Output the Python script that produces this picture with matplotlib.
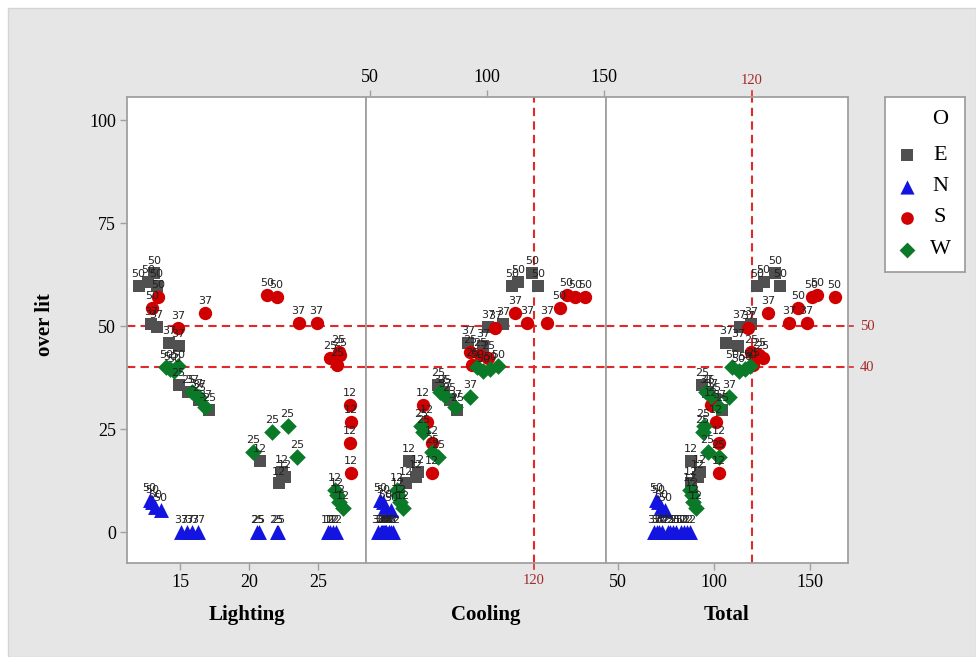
import matplotlib
matplotlib.use('Agg')
import matplotlib.pyplot as plt
from matplotlib.patches import Rectangle

plt.rcParams['font.family'] = 'serif'
plt.rcParams['font.serif'] = ['Liberation Serif', 'DejaVu Serif']

# one row per orientation / window-to-wall ratio group, four variants each
orient = ['E'] * 16 + ['N'] * 16 + ['S'] * 16 + ['W'] * 16
wwr = [12, 12, 12, 12, 25, 25, 25, 25, 37, 37, 37, 37, 50, 50, 50, 50,
       12, 12, 12, 12, 25, 25, 25, 25, 37, 37, 37, 37, 50, 50, 50, 50,
       12, 12, 12, 12, 25, 25, 25, 25, 37, 37, 37, 37, 50, 50, 50, 50,
       12, 12, 12, 12, 25, 25, 25, 25, 37, 37, 37, 37, 50, 50, 50, 50]

over_lit = [
    17.3, 14.5, 13.3, 11.8,   35.7, 34.0, 32.0, 29.6,   50.5, 49.8, 46.0, 45.2,   59.7, 60.7, 63.0, 59.7,
    0.0, 0.0, 0.0, 0.0,       0.0, 0.0, 0.0, 0.0,       0.0, 0.0, 0.0, 0.0,       7.8, 7.2, 6.1, 5.3,
    30.8, 26.7, 21.6, 14.3,   43.7, 42.2, 40.5, 43.0,   49.5, 53.2, 50.7, 50.7,   54.4, 57.0, 57.5, 57.1,
    10.2, 9.0, 7.3, 5.8,      19.4, 24.3, 25.8, 18.2,   34.0, 33.0, 32.8, 30.4,   40.0, 39.5, 40.2, 39.0,
]
lighting = [
    20.8, 22.4, 22.6, 22.2,   14.9, 15.6, 16.4, 17.1,   12.9, 13.3, 14.2, 14.9,   12.0, 12.7, 13.1, 13.3,
    25.7, 25.9, 26.1, 26.3,   20.6, 20.7, 22.0, 22.1,   15.1, 15.5, 15.9, 16.3,   12.8, 13.0, 13.2, 13.6,
    27.3, 27.4, 27.3, 27.4,   26.5, 25.9, 26.4, 26.6,   14.85, 16.8, 23.6, 24.9,  13.0, 13.4, 21.3, 22.0,
    26.2, 26.4, 26.5, 26.8,   20.3, 21.7, 22.8, 23.5,   15.9, 16.2, 16.4, 16.8,   14.0, 14.3, 14.85, 14.6,
]
cooling = [
    66.5, 70.5, 69.5, 65.5,   79.0, 81.5, 84.0, 87.2,   107.0, 100.5, 92.0, 98.3, 110.7, 113.2, 119.2, 121.8,
    57.0, 58.0, 59.0, 60.0,   55.0, 56.0, 57.0, 58.0,   53.5, 54.5, 55.5, 56.5,   54.3, 55.5, 56.4, 59.0,
    72.6, 74.4, 76.5, 76.5,   92.7, 100.4, 93.6, 97.0,  103.4, 112.0, 117.0, 125.6, 131.0, 137.6, 134.0, 142.0,
    61.5, 62.0, 62.8, 64.0,   76.5, 72.6, 72.0, 79.0,   80.0, 82.0, 92.7, 86.3,   95.7, 101.3, 104.7, 98.5,
]
total = [
    88.0, 93.0, 92.0, 88.0,   94.0, 97.0, 100.5, 104.3, 119.5, 113.5, 106.5, 112.8, 122.5, 126.0, 132.0, 134.5,
    83.0, 84.5, 86.0, 87.5,   76.0, 77.0, 79.0, 80.5,   69.0, 70.5, 71.5, 73.0,   70.0, 71.0, 72.5, 74.5,
    98.4, 101.0, 102.6, 102.6, 119.5, 125.5, 120.5, 123.5, 118.0, 128.4, 139.5, 148.4, 144.0, 151.0, 153.7, 163.0,
    87.7, 88.5, 89.3, 90.8,   96.8, 94.2, 94.8, 102.6,  96.0, 98.5, 108.0, 103.0, 109.5, 116.5, 119.0, 113.0,
]

groups = ['E', 'N', 'S', 'W']
colors = {'E': '#505050', 'N': '#1414e0', 'S': '#d00000', 'W': '#0a7a28'}
markers = {'E': 's', 'N': '^', 'S': 'o', 'W': 'D'}
sizes = {'E': 82, 'N': 115, 'S': 92, 'W': 72}

ref_color = '#e02a2a'
ref_text = '#a32a2a'
frame_color = '#a0a0a0'
label_font = ['Liberation Sans Narrow', 'DejaVu Sans']

W, H = 976, 657
fig = plt.figure(figsize=(W / 100, H / 100), dpi=100, facecolor='white')
fig.patches.append(Rectangle((8 / W, 0), 1 - 8 / W, 1 - 8 / H, transform=fig.transFigure,
                             facecolor='#e6e6e6', edgecolor='#d4d4d4', zorder=-10))


def box(x0, x1, y0=97, y1=563):
    return [x0 / W, 1 - y1 / H, (x1 - x0) / W, (y1 - y0) / H]


ax_l = fig.add_axes(box(127, 366))
ax_c = fig.add_axes(box(366, 606))
ax_t = fig.add_axes(box(606, 848))
panels = [(ax_l, lighting, (11.16, 28.48)),
          (ax_c, cooling, (48.29, 150.85)),
          (ax_t, total, (43.9, 170.0))]

for ax, xs, xlim in panels:
    ax.set_facecolor('white')
    ax.set_xlim(*xlim)
    ax.set_ylim(-7.5, 105.6)
    for sp in ax.spines.values():
        sp.set_color(frame_color)
        sp.set_linewidth(1.3)
    ax.tick_params(direction='out', length=5, width=1, color=frame_color,
                   labelsize=13, pad=3)
    ax.axhline(50, color=ref_color, ls=(0, (4, 2.5)), lw=1.5, zorder=1)
    ax.axhline(40, color=ref_color, ls=(0, (4, 2.5)), lw=1.5, zorder=1)
    for g in groups:
        idx = [i for i, o in enumerate(orient) if o == g]
        ax.scatter([xs[i] for i in idx], [over_lit[i] for i in idx],
                   marker=markers[g], s=sizes[g], color=colors[g],
                   linewidths=0, zorder=3)
    for i in range(len(orient)):
        ax.annotate(str(wwr[i]), (xs[i], over_lit[i]), xytext=(0, 5),
                    textcoords='offset points', ha='center', va='bottom',
                    fontsize=8, family=label_font, color='#222222', zorder=4)

ax_l.set_xticks([15, 20, 25])
ax_l.set_yticks([0, 25, 50, 75, 100])

ax_c.xaxis.tick_top()
ax_c.set_xticks([50, 100, 150])
ax_c.tick_params(axis='y', left=False, labelleft=False)
ax_c.axvline(120, color=ref_color, ls=(0, (4, 2.5)), lw=1.5, zorder=1)

ax_t.set_xticks([50, 100, 150])
ax_t.tick_params(axis='y', left=False, labelleft=False)
ax_t.axvline(120, color=ref_color, ls=(0, (4, 2.5)), lw=1.5, zorder=1)

# reference line markers outside the frame
for yv in (50, 40):
    ax_t.plot([1, 1.022], [yv, yv], transform=ax_t.get_yaxis_transform(),
              color=ref_color, lw=1.2, clip_on=False)
    ax_t.text(1.05, yv, str(yv), transform=ax_t.get_yaxis_transform(),
              color=ref_text, fontsize=10.5, ha='left', va='center')
ax_c.plot([120, 120], [0, -0.012], transform=ax_c.get_xaxis_transform(),
          color=ref_color, lw=1.2, clip_on=False)
ax_c.text(120, -0.023, '120', transform=ax_c.get_xaxis_transform(),
          color=ref_text, fontsize=10.5, ha='center', va='top')
ax_t.plot([120, 120], [1, 1.012], transform=ax_t.get_xaxis_transform(),
          color=ref_color, lw=1.2, clip_on=False)
ax_t.text(120, 1.022, '120', transform=ax_t.get_xaxis_transform(),
          color=ref_text, fontsize=10.5, ha='center', va='bottom')

for x, name in [(247, 'Lighting'), (486, 'Cooling'), (727, 'Total')]:
    fig.text(x / W, 1 - 615 / H, name, ha='center', va='center',
             fontsize=15, fontweight='bold')
fig.text(45 / W, 1 - 325 / H, 'over lit', rotation=90, ha='center', va='center',
         fontsize=15, fontweight='bold')

# legend box
ax_leg = fig.add_axes(box(885, 965, 97, 272))
ax_leg.set_xlim(0, 80)
ax_leg.set_ylim(175, 0)
ax_leg.set_xticks([])
ax_leg.set_yticks([])
for sp in ax_leg.spines.values():
    sp.set_color(frame_color)
    sp.set_linewidth(1.3)
ax_leg.text(55, 23, 'O', ha='center', va='center', fontsize=16)
for k, g in enumerate(groups):
    yy = 58 + k * 31.5
    ax_leg.scatter([22], [yy], marker=markers[g], s=sizes[g] * 0.9,
                   color=colors[g], linewidths=0)
    ax_leg.text(55, yy, g, ha='center', va='center', fontsize=16)

fig.savefig('out.png', dpi=100, facecolor=fig.get_facecolor())
